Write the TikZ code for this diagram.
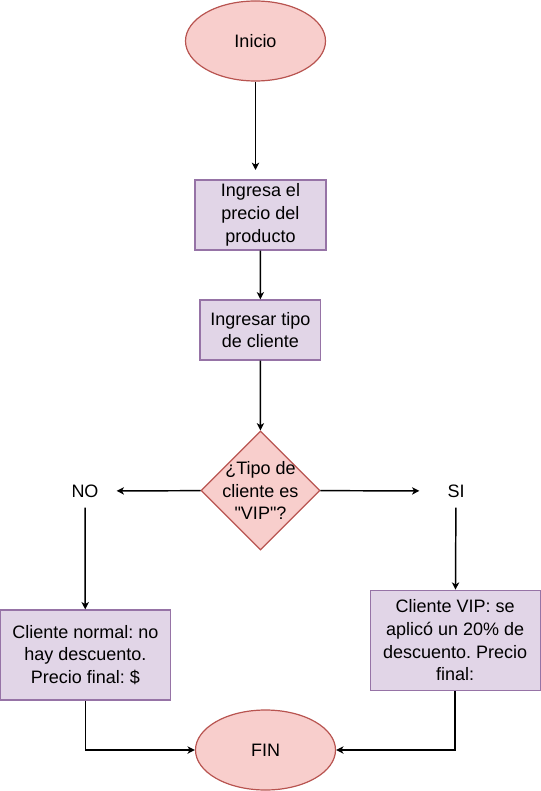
\documentclass[tikz,border=0pt]{standalone}
\usepackage{fontspec}
\setmainfont{Liberation Sans}[Ligatures=TeXOff]
\usetikzlibrary{shapes.geometric,arrows.meta}
\frenchspacing

\definecolor{pinkfill}{HTML}{F8CECC}
\definecolor{pinkline}{HTML}{B85450}
\definecolor{lilafill}{HTML}{E1D5E7}
\definecolor{lilaline}{HTML}{9673A6}

\tikzset{every picture/.style={line width=0.9pt}}
\tikzset{
  terminal/.style={ellipse, draw=pinkline, fill=pinkfill, inner sep=0pt, minimum width=105pt, minimum height=60pt},
  proceso/.style={rectangle, draw=lilaline, fill=lilafill, inner sep=0pt, align=center},
  decision/.style={diamond, draw=pinkline, fill=pinkfill, inner sep=0pt, minimum width=89.25pt, minimum height=89.25pt},
  etiqueta/.style={inner sep=0pt, minimum height=24pt},
  flecha/.style={-{Stealth[length=5.5pt,width=5.5pt,inset=1.5pt]}, line width=1.1pt},
}

\begin{document}
\begin{tikzpicture}[x=0.75pt,y=0.75pt,yscale=-1,xscale=1,font=\fontsize{13.5}{17}\selectfont\frenchspacing]
\useasboundingbox (0,0) rectangle (541,791);

%Shape: Ellipse [inicio]
\node[terminal] (inicio) at (255.5,41) {Inicio};
%Shape: Rectangle [precio]
\node[proceso, minimum width=98.25pt, minimum height=52.5pt] (precio) at (260.5,215) {Ingresa el\\precio del\\producto};
%Shape: Rectangle [tipo]
\node[proceso, minimum width=90.4pt, minimum height=45pt] (tipo) at (260.3,330) {Ingresar tipo\\de cliente};
%Shape: Diamond [vip]
\node[decision, label={[align=center]center:{¿Tipo de\\cliente es\\"VIP"?}}] (vip) at (260.5,490.5) {};
% Text Node
\node[etiqueta, minimum width=46.5pt] (no) at (85,491) {NO};
% Text Node
\node[etiqueta, minimum width=54pt] (si) at (456,491) {SI};
%Shape: Rectangle [normal]
\node[proceso, minimum width=128pt, minimum height=67.5pt] (normal) at (85.3,655) {Cliente normal: no\\hay descuento.\\Precio final: \$};
%Shape: Rectangle [cvip]
\node[proceso, minimum width=127.5pt, minimum height=75pt] (cvip) at (455.2,640.3) {Cliente VIP: se\\aplicó un 20\% de\\descuento. Precio\\final:};
%Shape: Ellipse [fin]
\node[terminal, minimum width=105pt] (fin) at (265.5,750) {FIN};

\coordinate (finicio) at (255.5,170);

%Straight Lines
\draw[flecha] (inicio) -- (finicio);
\draw[flecha] (precio) -- (tipo);
\draw[flecha] (tipo) -- (vip);
\draw[flecha] (vip) -- (no);
\draw[flecha] (vip) -- (si);
\draw[flecha] (no) -- (normal);
\draw[flecha] (si) -- (cvip);
%Elbow Lines
\draw[flecha] (normal.south) |- (fin.west);
\draw[flecha] (cvip.south) |- (fin.east);

\end{tikzpicture}
\end{document}
